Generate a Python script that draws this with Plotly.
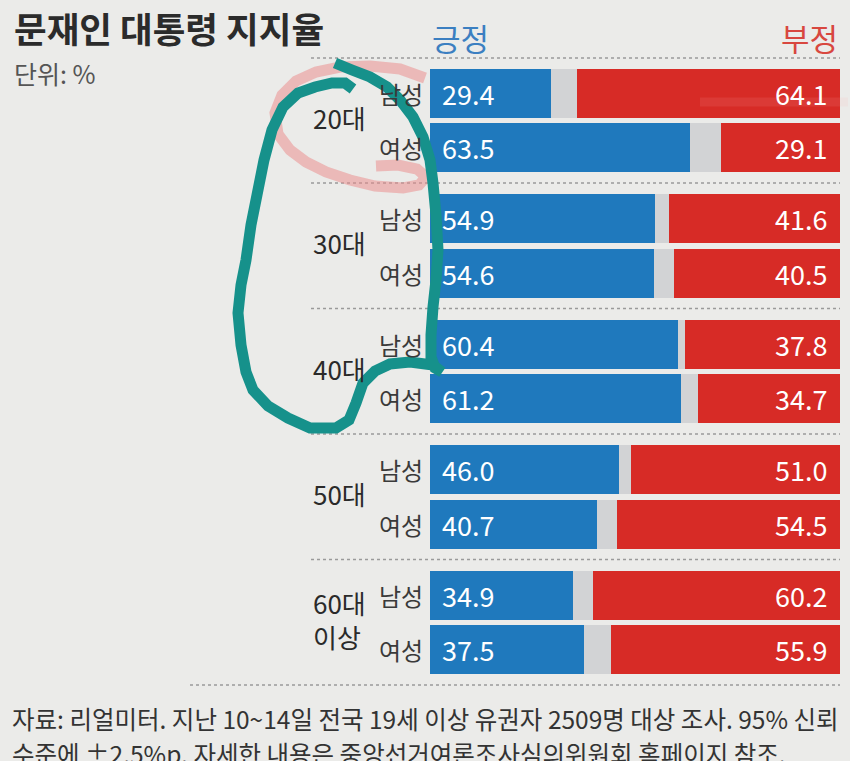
import plotly.graph_objects as go

# ---------------- data ----------------
groups = ["20대", "30대", "40대", "50대", "60대<br>이상"]
genders = ["남성", "여성"]
positive = [29.4, 63.5, 54.9, 54.6, 60.4, 61.2, 46.0, 40.7, 34.9, 37.5]
negative = [64.1, 29.1, 41.6, 40.5, 37.8, 34.7, 51.0, 54.5, 60.2, 55.9]
col_pos = "긍정"
col_neg = "부정"
title = "문재인 대통령 지지율"
unit = "단위: %"
source1 = "자료: 리얼미터. 지난 10~14일 전국 19세 이상 유권자 2509명 대상 조사. 95% 신뢰"
source2 = "수준에 ±2.5%p. 자세한 내용은 중앙선거여론조사심의위원회 홈페이지 참조."

# ---------------- layout constants ----------------
W, H = 850, 761
X0, X1 = 430, 840          # bar area in px
ROW0, GPITCH, MPITCH, BARW = 93, 125.5, 54.5, 49
BG = "#ebebe9"
BLUE = "#1f79bd"
RED = "#d72b26"
GRAY = "#d2d3d5"
FONT = "Noto Sans CJK KR"

def px(x, y):
    return x / W, 1 - y / H

ypos, ylab = [], []
for gi, g in enumerate(groups):
    for mi, m in enumerate(genders):
        ypos.append(ROW0 + gi * GPITCH + mi * MPITCH)
        ylab.append(m)
neutral = [round(100 - p - n, 1) for p, n in zip(positive, negative)]

fig = go.Figure()
fig.add_trace(go.Bar(x=positive, y=ypos, orientation="h", width=BARW,
                     marker=dict(color=BLUE, line=dict(width=0)), hoverinfo="x"))
fig.add_trace(go.Bar(x=neutral, y=ypos, orientation="h", width=BARW,
                     marker=dict(color=GRAY, line=dict(width=0)), hoverinfo="x"))
fig.add_trace(go.Bar(x=negative, y=ypos, orientation="h", width=BARW,
                     marker=dict(color=RED, line=dict(width=0)), hoverinfo="x"))

ann = []
for y, p, n, lab in zip(ypos, positive, negative, ylab):
    ann.append(dict(x=0, y=y, xref="x", yref="y", text=f"{p:.1f}", showarrow=False,
                    xanchor="left", yanchor="middle", xshift=10,
                    font=dict(family=FONT, size=27, color="white")))
    ann.append(dict(x=100, y=y, xref="x", yref="y", text=f"{n:.1f}", showarrow=False,
                    xanchor="right", yanchor="middle", xshift=-11,
                    font=dict(family=FONT, size=27, color="white")))
    ann.append(dict(x=425 / W, y=y, xref="paper", yref="y", text=lab, showarrow=False,
                    xanchor="right", yanchor="middle",
                    font=dict(family=FONT, size=24, color="#3a3a3a")))
for gi, g in enumerate(groups):
    yc = ROW0 + gi * GPITCH + MPITCH / 2 - 3
    ann.append(dict(x=311 / W, y=yc, xref="paper", yref="y", text=g, showarrow=False,
                    xanchor="left", yanchor="middle", align="left",
                    font=dict(family=FONT, size=26, color="#2a2a2a")))

# header texts
ann += [
    dict(x=12 / W, y=px(0, 27)[1], xref="paper", yref="paper", text=title, showarrow=False,
         xanchor="left", yanchor="middle",
         font=dict(family=FONT, size=35.5, color="#2b2b2b", weight="bold")),
    dict(x=12 / W, y=px(0, 73)[1], xref="paper", yref="paper", text=unit, showarrow=False,
         xanchor="left", yanchor="middle", font=dict(family=FONT, size=25, color="#555555")),
    dict(x=X0 / W, y=px(0, 37)[1], xref="paper", yref="paper", text=col_pos, showarrow=False,
         xanchor="left", yanchor="middle", font=dict(family=FONT, size=31, color="#3b7fc1")),
    dict(x=X1 / W, y=px(0, 37)[1], xref="paper", yref="paper", text=col_neg, showarrow=False,
         xanchor="right", yanchor="middle", font=dict(family=FONT, size=31, color="#d8473f")),
    dict(x=10 / W, y=px(0, 718)[1], xref="paper", yref="paper", text=source1, showarrow=False,
         xanchor="left", yanchor="middle", font=dict(family=FONT, size=24.5, color="#333333")),
    dict(x=10 / W, y=px(0, 753)[1], xref="paper", yref="paper", text=source2, showarrow=False,
         xanchor="left", yanchor="middle", font=dict(family=FONT, size=24.5, color="#333333")),
]

shapes = []
# dotted separators
seps = [58] + [ROW0 + gi * GPITCH + MPITCH + (GPITCH - MPITCH) / 2 for gi in range(len(groups) - 1)]
for s in seps:
    shapes.append(dict(type="line", xref="paper", yref="y", x0=311 / W, x1=X1 / W, y0=s, y1=s,
                       line=dict(color="#9a9a9a", width=1.5, dash="dot"), layer="below"))
shapes.append(dict(type="line", xref="paper", yref="y", x0=190 / W, x1=X1 / W, y0=685, y1=685,
                   line=dict(color="#9a9a9a", width=1.5, dash="dot"), layer="below"))

def path(pts):
    s = ""
    for i, (x, y) in enumerate(pts):
        a, b = px(x, y)
        s += ("M" if i == 0 else "L") + f"{a:.5f},{b:.5f} "
    return s

# hand-drawn pink mark
pink = [(425, 78), (400, 69), (370, 66), (340, 67), (316, 72), (296, 81), (282, 95), (275, 113),
        (278, 134), (290, 150), (306, 162), (326, 172), (350, 180), (375, 186), (403, 188),
        (419, 185), (426, 177), (417, 169), (398, 165), (376, 166)]
shapes.append(dict(type="path", xref="paper", yref="paper", path=path(pink),
                   line=dict(color="rgba(235,135,135,0.5)", width=11)))
shapes.append(dict(type="line", xref="paper", yref="paper",
                   x0=px(700, 102)[0], y0=px(700, 102)[1], x1=px(848, 102)[0], y1=px(848, 102)[1],
                   line=dict(color="rgba(255,170,170,0.12)", width=9)))

# hand-drawn teal loop
teal = [(335, 63), (352, 70), (370, 77), (387, 87), (400, 100), (413, 117), (423, 137), (430, 160),
        (433, 183), (436, 215), (438, 250), (436, 280), (433, 307), (431, 335), (431, 357),
        (435, 368), (442, 372), (433, 365), (410, 362), (390, 364), (375, 371), (363, 383),
        (356, 403), (349, 420), (336, 428), (310, 428), (288, 418), (268, 406), (253, 390),
        (246, 372), (241, 345), (238, 313), (241, 285), (246, 260), (251, 225), (257, 195),
        (264, 160), (272, 130), (283, 107), (298, 93), (315, 87), (332, 83), (345, 83), (353, 89)]
shapes.append(dict(type="path", xref="paper", yref="paper", path=path(teal),
                   line=dict(color="#16918b", width=11)))

fig.update_layout(
    width=W, height=H, margin=dict(l=0, r=0, t=0, b=0),
    paper_bgcolor=BG, plot_bgcolor=BG, barmode="stack", bargap=0, showlegend=False,
    xaxis=dict(domain=[X0 / W, X1 / W], range=[0, 100], visible=False, fixedrange=True),
    yaxis=dict(domain=[0, 1], range=[H, 0], visible=False, fixedrange=True),
    annotations=ann, shapes=shapes,
)
fig.write_html("out.html")
